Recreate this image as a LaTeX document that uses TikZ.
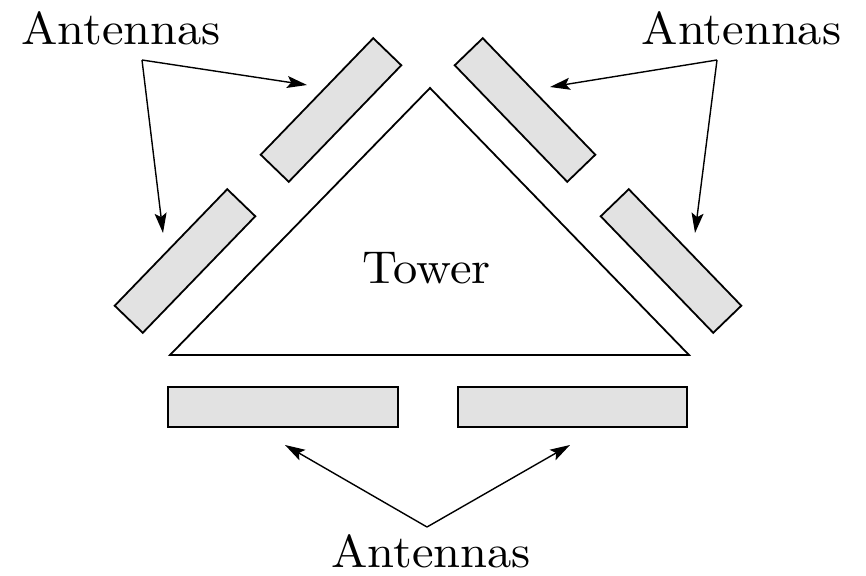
\documentclass[tikz,border=0pt]{standalone}
\usetikzlibrary{arrows.meta}
\definecolor{antfill}{RGB}{226,226,226}
\begin{document}
\begin{tikzpicture}[x=1pt,y=-1pt,
  antenna/.style={draw=black, fill=antfill, line width=1.8pt, inner sep=0pt,
    minimum width=162pt, minimum height=39pt, shape=rectangle},
  label/.style={anchor=base, inner sep=0pt, font=\fontsize{10}{12}\selectfont,
    xscale=4.85, yscale=4.6, transform shape},
  pointer/.style={line width=1.4pt, -{Stealth[length=20pt,width=12pt,inset=4pt]}},
  towerline/.style={draw=black, line width=1.8pt, line join=miter}]
\useasboundingbox (0,0) rectangle (866,575);

% tower
\coordinate (apex) at (430,88);
\coordinate (bl) at (170,355);
\coordinate (br) at (689,355);
\draw[towerline] (apex) -- (bl) -- (br) -- cycle;
\node[label] (tower) at (426.5,283) {Tower};

% antennas
\node[antenna, rotate=46]  (ul) at (331,110) {};
\node[antenna, rotate=46]  (ll) at (185,261) {};
\node[antenna, rotate=-46] (ur) at (525,110) {};
\node[antenna, rotate=-46] (lr) at (671,261) {};
\node[antenna, minimum width=230pt, minimum height=40pt] (bla) at (283,407) {};
\node[antenna, minimum width=229pt, minimum height=40pt] (bra) at (572.5,407) {};

% labels
\node[label] (lt) at (121,45) {Antennas};
\node[label] (rt) at (741.5,45) {Antennas};
\node[label] (bt) at (431,567) {Antennas};

% arrow sources and tips
\coordinate (ls) at (142,60);
\coordinate (rs) at (717,60);
\coordinate (bs) at (427,527);
\coordinate (t1) at (307,85);
\coordinate (t2) at (163,233);
\coordinate (t3) at (550,87);
\coordinate (t4) at (695,233);
\coordinate (t5) at (285,445);
\coordinate (t6) at (570,445);

\draw[pointer] (ls) -- (t1);
\draw[pointer] (ls) -- (t2);
\draw[pointer] (rs) -- (t3);
\draw[pointer] (rs) -- (t4);
\draw[pointer] (bs) -- (t5);
\draw[pointer] (bs) -- (t6);
\end{tikzpicture}
\end{document}
